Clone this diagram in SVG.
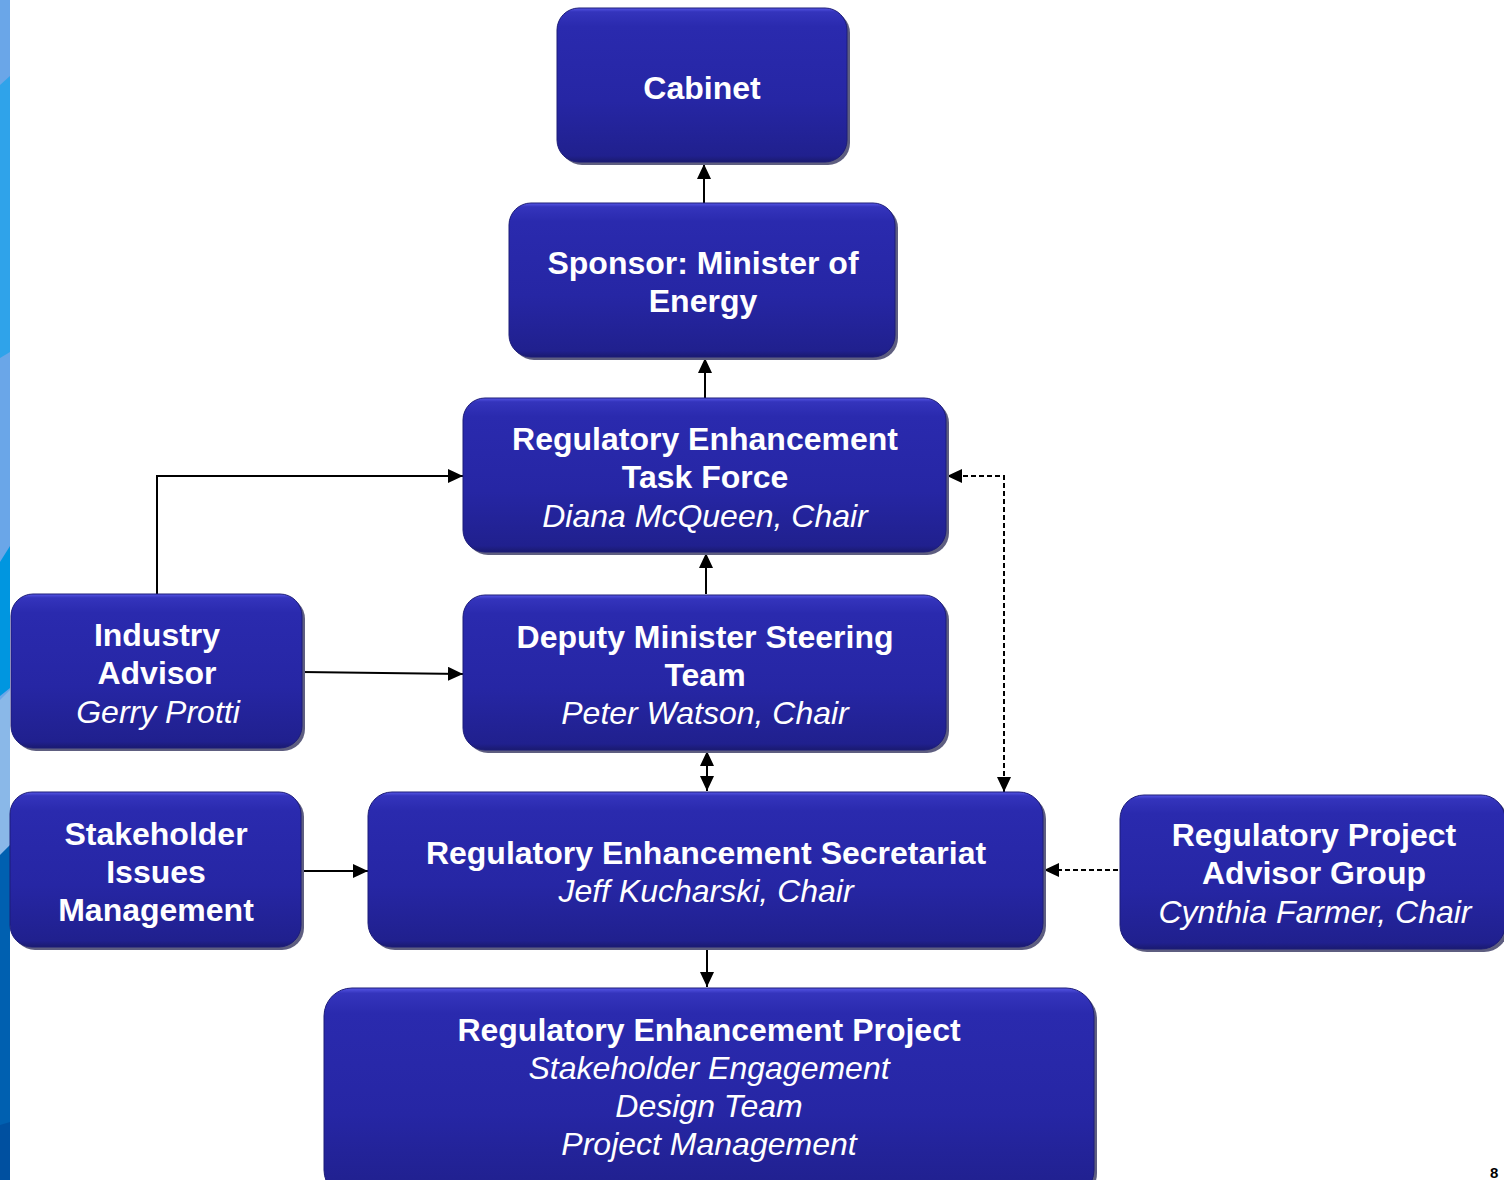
<svg xmlns="http://www.w3.org/2000/svg" width="1504" height="1180" viewBox="0 0 1504 1180">
<defs>
<linearGradient id="gBox" x1="0" y1="0" x2="0" y2="1">
<stop offset="0" stop-color="#5656e6"/>
<stop offset="0.025" stop-color="#3434bc"/>
<stop offset="0.12" stop-color="#2a2aae"/>
<stop offset="0.6" stop-color="#2626a4"/>
<stop offset="0.96" stop-color="#20208e"/>
<stop offset="1" stop-color="#1a1a70"/>
</linearGradient>
<marker id="ah" viewBox="0 0 15 14" refX="15" refY="7" markerWidth="15" markerHeight="14" markerUnits="userSpaceOnUse" orient="auto-start-reverse">
<path d="M0,0 L15,7 L0,14 Z" fill="#000"/>
</marker>
</defs>
<style>
.sh{fill:#5e5e80}
.bx{fill:url(#gBox);stroke:#1c1c78;stroke-width:1}
.b{font-family:"Liberation Sans",Arial,sans-serif;font-weight:bold;font-size:32px;fill:#fff;text-anchor:middle}
.i{font-family:"Liberation Sans",Arial,sans-serif;font-style:italic;font-size:32px;fill:#fff;text-anchor:middle}
.c{fill:none;stroke:#000;stroke-width:2}
.d{fill:none;stroke:#000;stroke-width:2;stroke-dasharray:5 3}
</style>
<rect width="1504" height="1180" fill="#fff"/>
<g id="strip">
<rect x="0" y="0" width="10" height="1180" fill="#6aa6e8"/>
<polygon points="0,85 10,76 10,352 0,358" fill="#2fa3ea"/>
<polygon points="0,562 10,546 10,688 0,696" fill="#0096e0"/>
<polygon points="0,700 10,690 10,845 0,855" fill="#8ab8e8"/>
<polygon points="0,855 10,845 10,1180 0,1180" fill="#0060b0"/>
<polygon points="0,1125 10,1122 10,1180 0,1180" fill="#0050a0"/>
</g>
<g id="connectors">
<line class="c" x1="704" y1="203" x2="704" y2="164" marker-end="url(#ah)"/>
<line class="c" x1="705" y1="398" x2="705" y2="358" marker-end="url(#ah)"/>
<line class="c" x1="706" y1="594" x2="706" y2="553" marker-end="url(#ah)"/>
<line class="c" x1="707" y1="751" x2="707" y2="791" marker-start="url(#ah)" marker-end="url(#ah)"/>
<line class="c" x1="707" y1="947" x2="707" y2="987" marker-end="url(#ah)"/>
<polyline class="c" points="157,594 157,476 463,476" marker-end="url(#ah)"/>
<line class="c" x1="302" y1="672" x2="463" y2="674" marker-end="url(#ah)"/>
<line class="c" x1="301" y1="871" x2="368" y2="871" marker-end="url(#ah)"/>
<line class="d" x1="1118" y1="870" x2="1044" y2="870" marker-end="url(#ah)"/>
<polyline class="d" points="947,476 1004,476 1004,792" marker-start="url(#ah)" marker-end="url(#ah)"/>
</g>
<g id="cabinet">
<rect class="sh" x="560" y="11" width="290" height="154" rx="22"/>
<rect class="bx" x="557" y="8" width="290" height="154" rx="22"/>
<text class="b" x="702" y="99">Cabinet</text>
</g>
<g id="sponsor">
<rect class="sh" x="512" y="206" width="386" height="154" rx="22"/>
<rect class="bx" x="509" y="203" width="386" height="154" rx="22"/>
<text class="b" x="703" y="274">Sponsor: Minister of</text>
<text class="b" x="703" y="312">Energy</text>
</g>
<g id="taskforce">
<rect class="sh" x="466" y="401" width="483" height="154" rx="22"/>
<rect class="bx" x="463" y="398" width="483" height="154" rx="22"/>
<text class="b" x="705" y="450">Regulatory Enhancement</text>
<text class="b" x="705" y="488">Task Force</text>
<text class="i" x="705" y="527">Diana McQueen, Chair</text>
</g>
<g id="deputy">
<rect class="sh" x="466" y="598" width="483" height="155" rx="22"/>
<rect class="bx" x="463" y="595" width="483" height="155" rx="22"/>
<text class="b" x="705" y="648">Deputy Minister Steering</text>
<text class="b" x="705" y="686">Team</text>
<text class="i" x="705" y="724">Peter Watson, Chair</text>
</g>
<g id="industry">
<rect class="sh" x="14" y="597" width="291" height="154" rx="22"/>
<rect class="bx" x="11" y="594" width="291" height="154" rx="22"/>
<text class="b" x="157" y="646">Industry</text>
<text class="b" x="157" y="684">Advisor</text>
<text class="i" x="158" y="723">Gerry Protti</text>
</g>
<g id="stakeholder">
<rect class="sh" x="13" y="795" width="291" height="155" rx="22"/>
<rect class="bx" x="10" y="792" width="291" height="155" rx="22"/>
<text class="b" x="156" y="845">Stakeholder</text>
<text class="b" x="156" y="883">Issues</text>
<text class="b" x="156" y="921">Management</text>
</g>
<g id="secretariat">
<rect class="sh" x="371" y="795" width="675" height="155" rx="24"/>
<rect class="bx" x="368" y="792" width="675" height="155" rx="24"/>
<text class="b" x="706" y="864">Regulatory Enhancement Secretariat</text>
<text class="i" x="706" y="902">Jeff Kucharski, Chair</text>
</g>
<g id="advisorgroup">
<rect class="sh" x="1123" y="798" width="385" height="154" rx="24"/>
<rect class="bx" x="1120" y="795" width="385" height="154" rx="24"/>
<text class="b" x="1314" y="846">Regulatory Project</text>
<text class="b" x="1314" y="884">Advisor Group</text>
<text class="i" x="1315" y="923">Cynthia Farmer, Chair</text>
</g>
<g id="project">
<rect class="sh" x="327" y="991" width="770" height="210" rx="28"/>
<rect class="bx" x="324" y="988" width="770" height="210" rx="28"/>
<text class="b" x="709" y="1041">Regulatory Enhancement Project</text>
<text class="i" x="709" y="1079">Stakeholder Engagement</text>
<text class="i" x="709" y="1117">Design Team</text>
<text class="i" x="709" y="1155">Project Management</text>
</g>
<text x="1490" y="1178" font-family="Liberation Sans, Arial, sans-serif" font-size="15" font-weight="bold" fill="#000">8</text>
</svg>
